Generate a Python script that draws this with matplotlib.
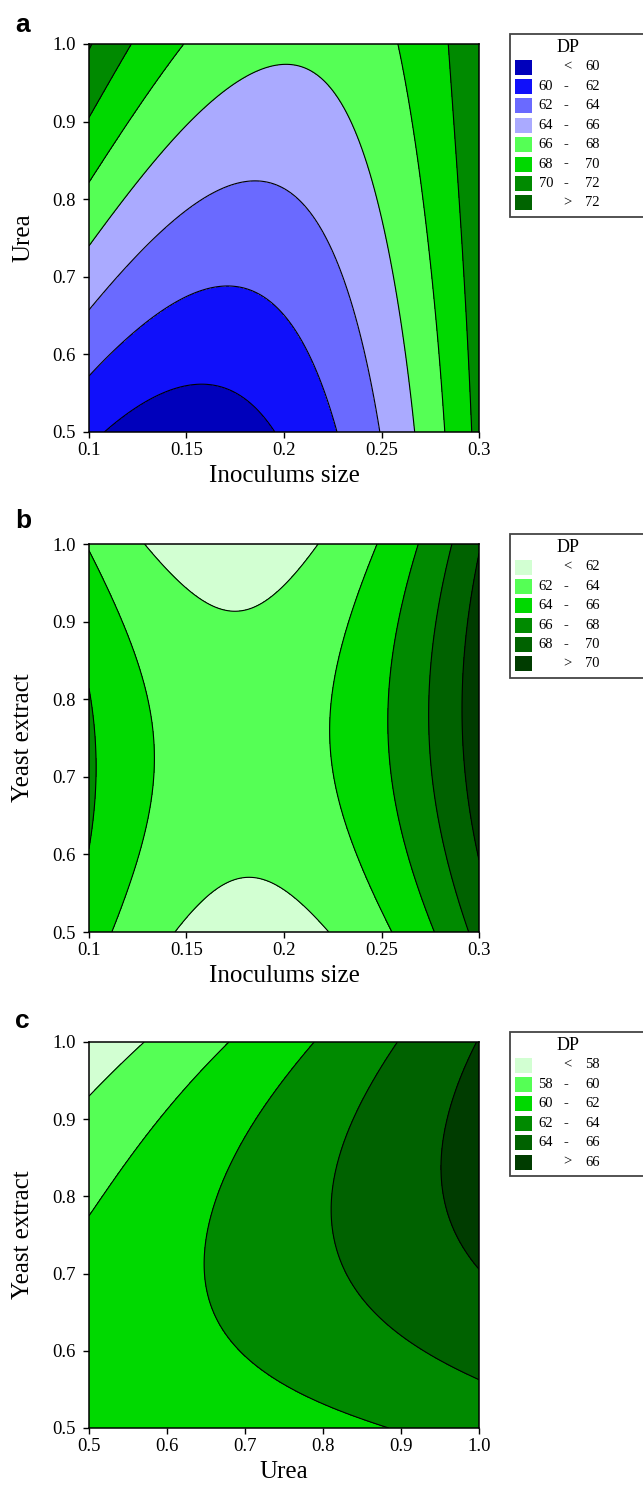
import numpy as np
import matplotlib
matplotlib.use("Agg")
import matplotlib.pyplot as plt
from matplotlib.patches import Rectangle

# ---------------- data (DP response) ----------------
inoculum = [0.10, 0.15, 0.20, 0.25, 0.30]
urea = [0.5, 0.6, 0.7, 0.8, 0.9, 1.0]
yeast = [0.5, 0.6, 0.7, 0.8, 0.9, 1.0]

# panel a: rows = Urea, cols = Inoculum size
dp_a = [[60.39, 59.00, 60.23, 64.09, 70.58],
        [62.65, 60.68, 61.38, 64.75, 70.78],
        [65.04, 62.47, 62.62, 65.48, 71.06],
        [67.43, 64.24, 63.82, 66.15, 71.25],
        [69.91, 66.09, 65.08, 66.87, 71.46],
        [72.15, 67.93, 66.31, 67.53, 71.61]]
# panel b: rows = Yeast extract, cols = Inoculum size
dp_b = [[65.01, 61.76, 61.29, 63.59, 68.67],
        [65.95, 62.82, 62.46, 64.88, 70.08],
        [66.31, 63.30, 63.06, 65.59, 70.91],
        [66.08, 63.18, 63.06, 65.71, 71.14],
        [65.26, 62.48, 62.47, 65.24, 70.79],
        [63.86, 61.19, 61.31, 64.19, 69.85]]
# panel c: rows = Yeast extract, cols = Urea
dp_c = [[60.34, 60.56, 61.10, 61.50, 62.05, 62.80],
        [60.69, 61.27, 62.14, 62.89, 63.78, 64.60],
        [60.51, 61.44, 62.62, 63.62, 64.76, 65.99],
        [59.78, 61.05, 62.53, 63.79, 65.18, 66.66],
        [58.51, 60.12, 61.89, 63.40, 65.04, 66.70],
        [56.70, 58.40, 60.50, 62.20, 64.00, 66.10]]

levels_a = [60, 62, 64, 66, 68, 70, 72]
levels_b = [62, 64, 66, 68, 70]
levels_c = [58, 60, 62, 64, 66]

colors_a = ['#0000BB', '#1010FA', '#6A6AFF', '#AAAAFF', '#55FF55', '#00D900', '#008A00', '#006400']
colors_g = ['#D2FFD2', '#55FF55', '#00D900', '#008A00', '#006200', '#003C00']

xt_a = ['0.1', '0.15', '0.2', '0.25', '0.3']
yt = ['0.5', '0.6', '0.7', '0.8', '0.9', '1.0']

# ---------------- helpers ----------------
W, H = 643, 1487
SERIF = ['Liberation Serif', 'DejaVu Serif']


def fit_surface(xv, yv, Z, deg=3):
    xv = np.asarray(xv, float)
    yv = np.asarray(yv, float)
    Z = np.asarray(Z, float)
    x0, xs = xv.mean(), (xv.max() - xv.min()) / 2
    y0, ys = yv.mean(), (yv.max() - yv.min()) / 2
    X, Y = np.meshgrid((xv - x0) / xs, (yv - y0) / ys)
    terms = [(i, j) for i in range(deg + 1) for j in range(deg + 1)]
    A = np.column_stack([X.ravel() ** i * Y.ravel() ** j for i, j in terms])
    coef, *_ = np.linalg.lstsq(A, Z.ravel(), rcond=None)

    def f(xx, yy):
        u = (xx - x0) / xs
        v = (yy - y0) / ys
        return sum(c * u ** i * v ** j for c, (i, j) in zip(coef, terms))
    return f


def fx(x):
    return x / W


def fy(y):
    return 1 - y / H


fig = plt.figure(figsize=(W / 100, H / 100), dpi=100)


def panel(top, bottom, xv, yv, Z, levels, colors, xlabel, ylabel, xticklabels, letter, letter_base):
    left, right = 89, 479
    ax = fig.add_axes([fx(left), fy(bottom), (right - left) / W, (bottom - top) / H])
    f = fit_surface(xv, yv, Z)
    gx = np.linspace(min(xv), max(xv), 400)
    gy = np.linspace(min(yv), max(yv), 400)
    GX, GY = np.meshgrid(gx, gy)
    GZ = f(GX, GY)
    bounds = [min(GZ.min(), levels[0]) - 5] + list(levels) + [max(GZ.max(), levels[-1]) + 5]
    ax.contourf(GX, GY, GZ, levels=bounds, colors=colors)
    ax.contour(GX, GY, GZ, levels=levels, colors='black', linewidths=0.8)
    ax.set_xlim(min(xv), max(xv))
    ax.set_ylim(min(yv), max(yv))
    ax.set_xticks([float(t) for t in xticklabels])
    ax.set_xticklabels(xticklabels)
    ax.set_yticks([float(t) for t in yt])
    ax.set_yticklabels(yt)
    for lab in ax.get_xticklabels() + ax.get_yticklabels():
        lab.set_family(SERIF)
        lab.set_fontsize(13.5)
    ax.tick_params(direction='out', length=4.5, width=1, pad=3)
    ax.tick_params(axis='y', pad=5)
    for s in ax.spines.values():
        s.set_linewidth(1.1)
    ax.set_xlabel(xlabel, family=SERIF, fontsize=18)
    ax.set_ylabel(ylabel, family=SERIF, fontsize=18)
    ax.xaxis.set_label_coords(0.5, -0.085)
    ax.yaxis.set_label_coords(-0.14, 0.5)
    fig.text(fx(15), fy(letter_base), letter, fontsize=19, fontweight='bold',
             family=['Liberation Sans', 'DejaVu Sans'], va='baseline', ha='left')

    # legend box
    n = len(colors)
    btop = top - 10
    bh = 33 + 19.4 * (n - 1) + 14
    fig.add_artist(Rectangle((fx(510), fy(btop + bh)), (150) / W, bh / H,
                             transform=fig.transFigure, facecolor='white',
                             edgecolor='#444444', linewidth=1.3, clip_on=False))
    fig.text(fx(568), fy(btop + 14), 'DP', family=SERIF, fontsize=13, ha='center', va='center')
    for i in range(n):
        cy = btop + 33 + 19.4 * i
        fig.add_artist(Rectangle((fx(515), fy(cy + 7.5)), 17 / W, 15 / H,
                                 transform=fig.transFigure, facecolor=colors[i],
                                 edgecolor='none'))
        if i == 0:
            fig.text(fx(567), fy(cy), '<', family=SERIF, fontsize=10.5, ha='center', va='center')
            fig.text(fx(585), fy(cy), f'{levels[0]}', family=SERIF, fontsize=10.5, ha='left', va='center')
        elif i == n - 1:
            fig.text(fx(567), fy(cy), '>', family=SERIF, fontsize=10.5, ha='center', va='center')
            fig.text(fx(585), fy(cy), f'{levels[-1]}', family=SERIF, fontsize=10.5, ha='left', va='center')
        else:
            fig.text(fx(553), fy(cy), f'{levels[i - 1]}', family=SERIF, fontsize=10.5, ha='right', va='center')
            fig.text(fx(566), fy(cy), '-', family=SERIF, fontsize=10.5, ha='center', va='center', fontweight='bold')
            fig.text(fx(585), fy(cy), f'{levels[i]}', family=SERIF, fontsize=10.5, ha='left', va='center')
    return ax


panel(44, 432, inoculum, urea, dp_a, levels_a, colors_a, 'Inoculums size', 'Urea', xt_a, 'a', 32)
panel(544, 932, inoculum, yeast, dp_b, levels_b, colors_g, 'Inoculums size', 'Yeast extract', xt_a, 'b', 528)
panel(1042, 1428, urea, yeast, dp_c, levels_c, colors_g, 'Urea', 'Yeast extract', yt, 'c', 1028)

fig.savefig('out.png', dpi=100)
